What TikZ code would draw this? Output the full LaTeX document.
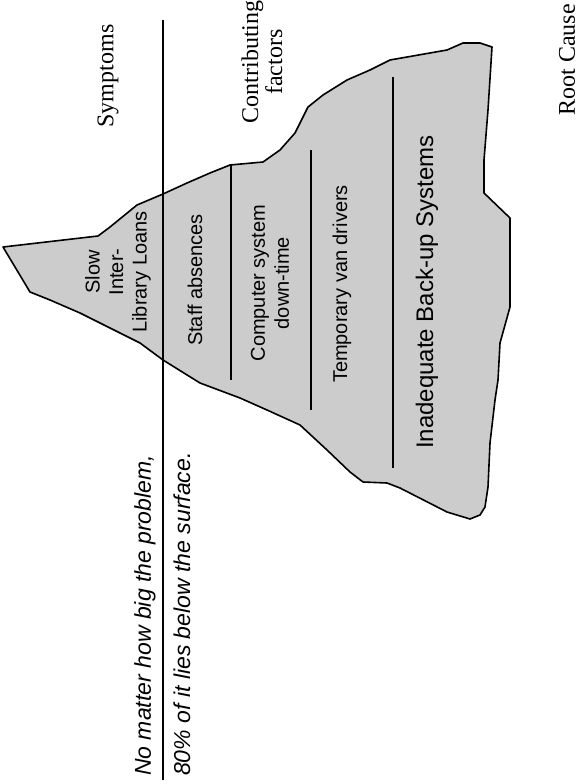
\documentclass[tikz,border=0pt]{standalone}
\usepackage{fontspec}
\setmainfont{Liberation Serif}
\newfontfamily\arialf{Liberation Sans}
\begin{document}
\begin{tikzpicture}[x=1pt,y=-1pt,
  lbl/.style={rotate=90,inner sep=0pt,align=center,font=\fontsize{24}{24}\selectfont},
  ice/.style={rotate=90,inner sep=0pt,align=center,font=\arialf\fontsize{20}{23.5}\selectfont},
  note/.style={rotate=90,inner sep=0pt,anchor=west,font=\arialf\itshape\fontsize{23}{23}\selectfont},
  berg/.style={draw=black,line width=1.6pt,fill=black!20,line join=round},
  sep/.style={draw=black,line width=1.2pt}]
\useasboundingbox (0,0) rectangle (583,784);
% iceberg outline
\path[berg] (3,247) -- (98,236) -- (110,227) -- (137,205) -- (163,194) -- (187,183)
  -- (210,173) -- (230,165) -- (263,162) -- (280,150) -- (295,133) -- (308,107)
  -- (323,95) -- (347,80) -- (370,70) -- (390,60) -- (447,50) -- (463,43)
  -- (480,43) -- (492,47) -- (488,110) -- (484,160) -- (484,193) -- (510,218)
  -- (510,307) -- (500,343) -- (498,380) -- (495,400) -- (490,443) -- (488,487)
  -- (485,507) -- (480,515) -- (470,519) -- (447,512) -- (400,488) -- (387,483)
  -- (363,482) -- (350,472) -- (327,450) -- (300,425) -- (267,410) -- (240,398)
  -- (200,383) -- (163,360) -- (140,343) -- (100,323) -- (80,313) -- (50,300)
  -- (30,292) -- cycle;
% water line and separators
\coordinate (w1) at (163,20);  \coordinate (w2) at (163,780);
\coordinate (s1a) at (231,165); \coordinate (s1b) at (231,380);
\coordinate (s2a) at (311,150); \coordinate (s2b) at (311,410);
\coordinate (s3a) at (393,77);  \coordinate (s3b) at (393,468);
\draw[sep] (w1) -- (w2);
\draw[sep] (s1a) -- (s1b);
\draw[sep] (s2a) -- (s2b);
\draw[sep] (s3a) -- (s3b);
% headings
\node[lbl] (symp) at (108,76) {Symptoms};
\node[lbl] (contrib) at (262,62) {Contributing\\factors};
\node[lbl] (root) at (567,60) {Root Cause};
% iceberg labels
\node[ice] (slow) at (118,272) {Slow\\Inter-\\Library Loans};
\node[ice] (staff) at (195,280) {Staff absences};
\node[ice,font=\arialf\fontsize{20}{24}\selectfont] (comp) at (270,283) {Computer system\\down-time};
\node[ice] (van) at (342,284) {Temporary van drivers};
\node[ice,font=\arialf\fontsize{24}{24}\selectfont] (backup) at (427,292) {Inadequate Back-up Systems};
% notes
\node[note] (n1) at (145,776) {No matter how big the problem,};
\node[note] (n2) at (182,776) {80\% of it lies below the surface.};
\end{tikzpicture}
\end{document}
